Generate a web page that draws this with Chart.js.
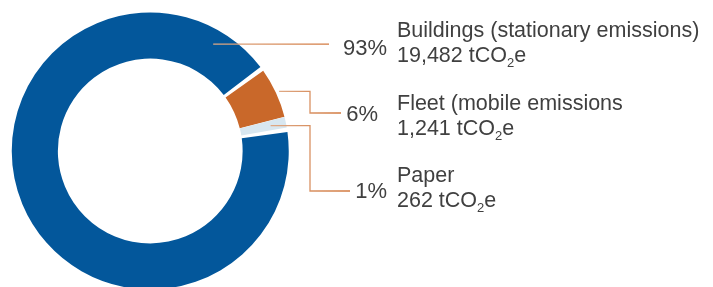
<!DOCTYPE html>
<html><head><meta charset="utf-8">
<script src="https://cdn.jsdelivr.net/npm/chart.js@4.4.1/dist/chart.umd.min.js"></script>
<style>
html,body{margin:0;padding:0;overflow:hidden;background:#fff;width:713px;height:287px}
#wrap{position:absolute;left:0;top:0;width:713px;height:304px}
</style>
</head><body><div id="wrap"><canvas id="c"></canvas></div>
<script>
const categories = ['Buildings (stationary emissions)', 'Fleet (mobile emissions', 'Paper'];
const emissions = [19482, 1241, 262];
const percentLabels = ['93%', '6%', '1%'];
const valueLabels = ['19,482', '1,241', '262'];
const unitMain = ' tCO';
const unitSub = '2';
const unitTail = 'e';
const colors = ['#03579b', '#c9682a', '#d8e7f0'];

// label layout (styling / placement only)
const layout = [
  {anchorAngle: 30.5, anchorR: 124, rowY: 44, elbowX: null, lineEnd: 329, pctRight: 387, pctBase: 55, textX: 397, base1: 37, base2: 62},
  {anchorAngle: null, anchorR: 142, rowY: 113, elbowX: 310, lineEnd: 341, pctRight: 378, pctBase: 121, textX: 397, base1: 110, base2: 135},
  {anchorAngle: null, anchorR: 123, rowY: 191, elbowX: 310, lineEnd: 350, pctRight: 387, pctBase: 198, textX: 397, base1: 182, base2: 207}
];

const labelPlugin = {
  id: 'calloutLabels',
  afterDraw(chart) {
    const ctx = chart.ctx;
    const meta = chart.getDatasetMeta(0);
    meta.data.forEach((arc, i) => {
      const p = arc.getProps(['x', 'y', 'startAngle', 'endAngle'], true);
      const L = layout[i];
      const ang = L.anchorAngle !== null ? L.anchorAngle * Math.PI / 180 - Math.PI / 2 : (p.startAngle + p.endAngle) / 2;
      const sx = p.x + L.anchorR * Math.cos(ang);
      const sy = p.y + L.anchorR * Math.sin(ang);
      ctx.save();
      const grad = ctx.createLinearGradient(sx, 0, L.lineEnd, 0);
      grad.addColorStop(0, '#dfa985');
      grad.addColorStop(1, '#d2793f');
      ctx.strokeStyle = grad;
      ctx.lineWidth = 1.3;
      ctx.beginPath();
      ctx.moveTo(sx, sy);
      if (L.elbowX !== null) {
        ctx.lineTo(L.elbowX, sy);
        ctx.lineTo(L.elbowX, L.rowY);
      }
      ctx.lineTo(L.lineEnd, L.elbowX !== null ? L.rowY : sy);
      ctx.stroke();

      ctx.fillStyle = '#404040';
      ctx.textBaseline = 'alphabetic';
      ctx.font = '22px "Liberation Sans", Arial, sans-serif';
      ctx.textAlign = 'right';
      ctx.fillText(percentLabels[i], L.pctRight, L.pctBase);
      ctx.textAlign = 'left';
      ctx.font = '21.5px "Liberation Sans", Arial, sans-serif';
      ctx.fillText(categories[i], L.textX, L.base1);
      let x = L.textX;
      const t1 = valueLabels[i] + unitMain;
      ctx.fillText(t1, x, L.base2);
      x += ctx.measureText(t1).width;
      ctx.font = '13px "Liberation Sans", Arial, sans-serif';
      ctx.fillText(unitSub, x, L.base2 + 5);
      x += ctx.measureText(unitSub).width;
      ctx.font = '21.5px "Liberation Sans", Arial, sans-serif';
      ctx.fillText(unitTail, x, L.base2);
      ctx.restore();
    });
  }
};

new Chart(document.getElementById('c'), {
  type: 'doughnut',
  data: {
    labels: categories,
    datasets: [{
      data: emissions,
      backgroundColor: colors,
      borderWidth: 0,
      spacing: 2.5,
      hoverOffset: 0
    }]
  },
  options: {
    responsive: true,
    maintainAspectRatio: false,
    animation: false,
    rotation: 80.3,
    cutout: '66.4%',
    layout: {padding: {left: 11.5, right: 424, top: 12.5, bottom: 14.5}},
    plugins: {legend: {display: false}, tooltip: {enabled: false}}
  },
  plugins: [labelPlugin]
});
</script>
</body></html>
